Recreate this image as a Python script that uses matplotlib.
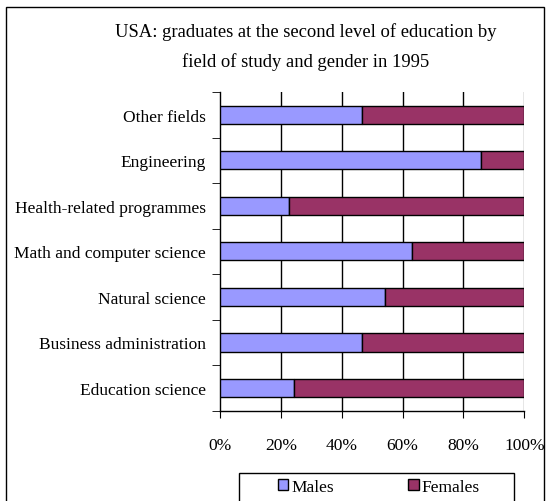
import matplotlib.pyplot as plt
import matplotlib.patches as mpatches
import numpy as np

# 1995 USA second-level graduates, share by gender (%)
fields = ['Other fields', 'Engineering', 'Health-related programmes',
          'Math and computer science', 'Natural science',
          'Business administration', 'Education science']
males = [46.7, 85.7, 22.6, 63.1, 54.3, 46.7, 24.4]
females = [100 - m for m in males]
xticks = [0, 20, 40, 60, 80, 100]

plt.rcParams['font.family'] = ['Liberation Serif', 'DejaVu Serif']

W, H = 551, 502
fig = plt.figure(figsize=(W / 100, H / 100), dpi=100)

# outer chart frame and legend box (both run off the bottom edge)
fig.patches.append(mpatches.Rectangle((6 / W, -0.05), (544 - 6) / W, 1.05 - 8 / H,
                                      transform=fig.transFigure, fill=False,
                                      edgecolor='black', linewidth=1.0))
fig.patches.append(mpatches.Rectangle((239 / W, -0.05), (514 - 239) / W, 1.05 - 474 / H,
                                      transform=fig.transFigure, fill=False,
                                      edgecolor='black', linewidth=1.0))

ax = fig.add_axes([220 / W, 1 - 411.7 / H, (524.3 - 220) / W, (411.7 - 93) / H])

y = np.arange(len(fields))[::-1]
ax.barh(y, males, height=0.4, color='#9999FF', edgecolor='black', linewidth=1.0,
        label='Males', zorder=3)
ax.barh(y, females, left=males, height=0.4, color='#993366', edgecolor='black',
        linewidth=1.0, label='Females', zorder=3)

ax.set_xlim(0, 100)
ax.set_ylim(-0.5, len(fields) - 0.5)
ax.set_xticks(xticks)
ax.set_xticklabels([f'{v}%' for v in xticks], fontsize=12.5)
ax.set_yticks(y)
ax.set_yticklabels(fields, fontsize=12.5)
ax.set_yticks(np.arange(-0.5, len(fields), 1.0), minor=True)
ax.tick_params(axis='y', which='major', length=0, pad=10)
ax.tick_params(axis='y', which='minor', length=6, direction='out')
ax.tick_params(axis='x', length=5, direction='out', pad=14)

for v in xticks[1:]:
    ax.axvline(v, color='black' if v < 100 else '#808080', linewidth=1.0, zorder=0)
for s in ['top', 'right']:
    ax.spines[s].set_visible(False)
ax.spines['left'].set_linewidth(1.0)
ax.spines['bottom'].set_linewidth(1.0)

fig.text(306 / W, 1 - 32 / H, 'USA: graduates at the second level of education by',
         ha='center', va='center', fontsize=13.4)
fig.text(306 / W, 1 - 62 / H, 'field of study and gender in 1995',
         ha='center', va='center', fontsize=13.4)

fig.legend(loc='center left', bbox_to_anchor=(278 / W, 1 - 488 / H), ncol=2,
           fontsize=12.5, frameon=False, handlelength=0.6, handleheight=0.6,
           handletextpad=0.15, columnspacing=4.3, borderpad=0, borderaxespad=0,
           bbox_transform=fig.transFigure)

fig.savefig('out.png', dpi=100)
